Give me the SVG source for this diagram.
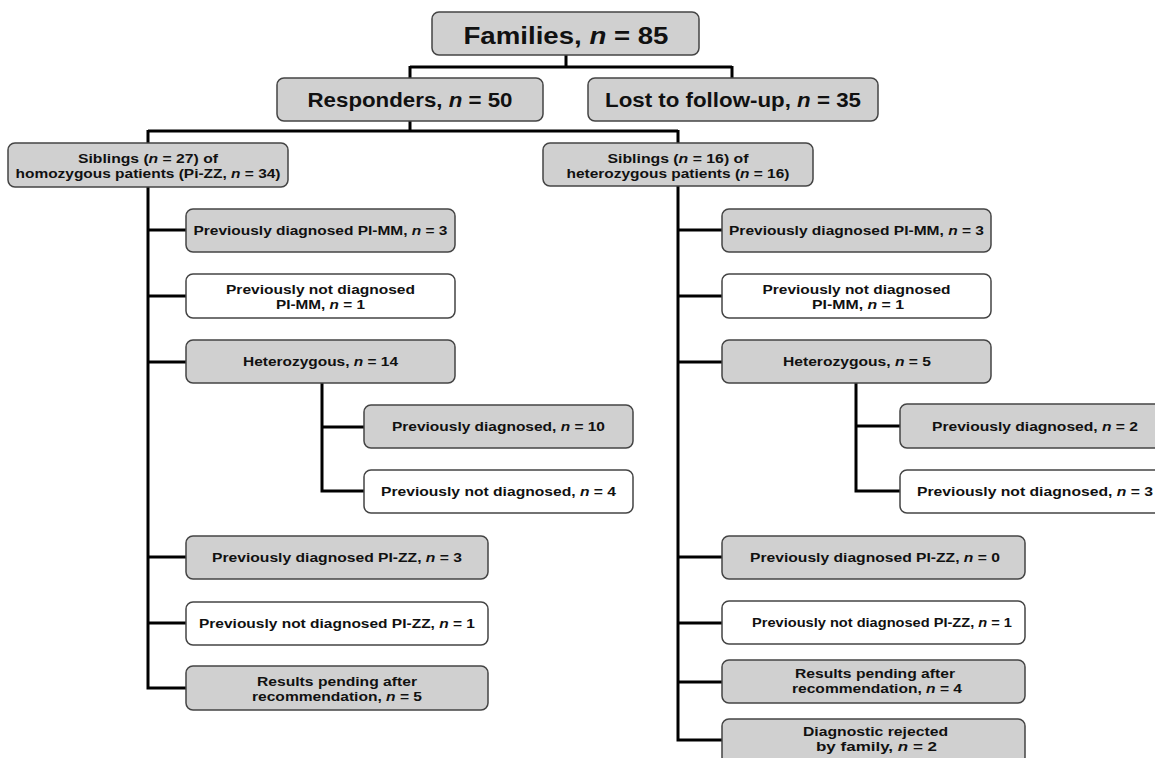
<svg xmlns="http://www.w3.org/2000/svg" width="1155" height="758" viewBox="0 0 1155 758">
<style>
.g{fill:#d0d0d0;stroke:#444;stroke-width:1.5}
.w{fill:#fff;stroke:#444;stroke-width:1.5}
text{font-family:"Liberation Sans",Arial,sans-serif;font-weight:bold;fill:#111;text-anchor:middle;font-size:12px}
.big{font-size:23px}
.mid{font-size:20px}
.i{font-style:italic}
.c{fill:none;stroke:#000;stroke-width:3;stroke-linejoin:miter}
</style>
<rect width="1155" height="758" fill="#fff"/>
<g id="connectors">
<path class="c" d="M566,55V67 M410,67H732 M410,66V78 M732,66V78 M410,121V131 M148,131H678 M148,130V143 M678,130V143"/>
<path class="c" d="M148,187V688 M146.5,230H186 M146.5,296H186 M146.5,362H186 M146.5,557H186 M146.5,623H186 M146.5,688H186"/>
<path class="c" d="M322,383V491 M320.5,427H364 M320.5,491H364"/>
<path class="c" d="M678,186V740 M676.5,230H722 M676.5,296H722 M676.5,362H722 M676.5,557H722 M676.5,623H722 M676.5,682H722 M676.5,740H722"/>
<path class="c" d="M856,383V491 M854.5,426H900 M854.5,491H900"/>
</g>
<g id="families"><rect class="g" x="432" y="12" width="267" height="43" rx="7"/><text class="big" x="566" y="44" textLength="205" lengthAdjust="spacingAndGlyphs">Families, <tspan class="i">n</tspan> = 85</text></g>
<g id="responders"><rect class="g" x="277" y="78" width="266" height="43" rx="7"/><text class="mid" x="410" y="107" textLength="205" lengthAdjust="spacingAndGlyphs">Responders,  <tspan class="i">n</tspan> = 50</text></g>
<g id="lost"><rect class="g" x="588" y="78" width="290" height="43" rx="7"/><text class="mid" x="733" y="107" textLength="256" lengthAdjust="spacingAndGlyphs">Lost to follow-up,  <tspan class="i">n</tspan> = 35</text></g>
<g id="sib-hom"><rect class="g" x="8" y="143" width="280" height="44" rx="7"/><text x="148" y="163" textLength="140" lengthAdjust="spacingAndGlyphs">Siblings (<tspan class="i">n</tspan> = 27) of</text><text x="148" y="178" textLength="265" lengthAdjust="spacingAndGlyphs">homozygous patients (Pi-ZZ, <tspan class="i">n</tspan> = 34)</text></g>
<g id="sib-het"><rect class="g" x="543" y="143" width="270" height="43" rx="7"/><text x="678" y="163" textLength="141" lengthAdjust="spacingAndGlyphs">Siblings (<tspan class="i">n</tspan> = 16) of</text><text x="678" y="178" textLength="223" lengthAdjust="spacingAndGlyphs">heterozygous patients (<tspan class="i">n</tspan> = 16)</text></g>

<g id="l-prev-mm"><rect class="g" x="186" y="209" width="269" height="43" rx="7"/><text x="320.5" y="235" textLength="254" lengthAdjust="spacingAndGlyphs">Previously diagnosed PI-MM, <tspan class="i">n</tspan> = 3</text></g>
<g id="l-notprev-mm"><rect class="w" x="186" y="274" width="269" height="44" rx="7"/><text x="320.5" y="294" textLength="189" lengthAdjust="spacingAndGlyphs">Previously not diagnosed</text><text x="320.5" y="309" textLength="89" lengthAdjust="spacingAndGlyphs">PI-MM, <tspan class="i">n</tspan> = 1</text></g>
<g id="l-het"><rect class="g" x="186" y="340" width="269" height="43" rx="7"/><text x="320.5" y="366" textLength="155" lengthAdjust="spacingAndGlyphs">Heterozygous, <tspan class="i">n</tspan> = 14</text></g>
<g id="l-het-prev"><rect class="g" x="364" y="405" width="269" height="43" rx="7"/><text x="498.5" y="431" textLength="213" lengthAdjust="spacingAndGlyphs">Previously diagnosed, <tspan class="i">n</tspan> = 10</text></g>
<g id="l-het-notprev"><rect class="w" x="364" y="470" width="269" height="43" rx="7"/><text x="498.5" y="496" textLength="235" lengthAdjust="spacingAndGlyphs">Previously not diagnosed, <tspan class="i">n</tspan> = 4</text></g>
<g id="l-prev-zz"><rect class="g" x="186" y="536" width="302" height="43" rx="7"/><text x="337" y="562" textLength="250" lengthAdjust="spacingAndGlyphs">Previously diagnosed PI-ZZ, <tspan class="i">n</tspan> = 3</text></g>
<g id="l-notprev-zz"><rect class="w" x="186" y="602" width="302" height="43" rx="7"/><text x="337" y="628" textLength="276" lengthAdjust="spacingAndGlyphs">Previously not diagnosed PI-ZZ, <tspan class="i">n</tspan> = 1</text></g>
<g id="l-pending"><rect class="g" x="186" y="666" width="302" height="44" rx="7"/><text x="337" y="686" textLength="160" lengthAdjust="spacingAndGlyphs">Results pending after</text><text x="337" y="701" textLength="170" lengthAdjust="spacingAndGlyphs">recommendation, <tspan class="i">n</tspan> = 5</text></g>

<g id="r-prev-mm"><rect class="g" x="722" y="209" width="269" height="43" rx="7"/><text x="856.5" y="235" textLength="255" lengthAdjust="spacingAndGlyphs">Previously diagnosed PI-MM, <tspan class="i">n</tspan> = 3</text></g>
<g id="r-notprev-mm"><rect class="w" x="722" y="274" width="269" height="44" rx="7"/><text x="856.5" y="294" textLength="188" lengthAdjust="spacingAndGlyphs">Previously not diagnosed</text><text x="858" y="309" textLength="92" lengthAdjust="spacingAndGlyphs">PI-MM, <tspan class="i">n</tspan> = 1</text></g>
<g id="r-het"><rect class="g" x="722" y="340" width="269" height="43" rx="7"/><text x="857" y="366" textLength="148" lengthAdjust="spacingAndGlyphs">Heterozygous, <tspan class="i">n</tspan> = 5</text></g>
<g id="r-het-prev"><rect class="g" x="900" y="404" width="270" height="44" rx="7"/><text x="1035" y="431" textLength="206" lengthAdjust="spacingAndGlyphs">Previously diagnosed, <tspan class="i">n</tspan> = 2</text></g>
<g id="r-het-notprev"><rect class="w" x="900" y="470" width="270" height="43" rx="7"/><text x="1035" y="496" textLength="236" lengthAdjust="spacingAndGlyphs">Previously not diagnosed, <tspan class="i">n</tspan> = 3</text></g>
<g id="r-prev-zz"><rect class="g" x="722" y="536" width="303" height="43" rx="7"/><text x="875" y="562" textLength="250" lengthAdjust="spacingAndGlyphs">Previously diagnosed PI-ZZ, <tspan class="i">n</tspan> = 0</text></g>
<g id="r-notprev-zz"><rect class="w" x="722" y="601" width="303" height="43" rx="7"/><text x="882" y="627" textLength="260" lengthAdjust="spacingAndGlyphs">Previously not diagnosed PI-ZZ, <tspan class="i">n</tspan> = 1</text></g>
<g id="r-pending"><rect class="g" x="722" y="660" width="303" height="43" rx="7"/><text x="875" y="678" textLength="160" lengthAdjust="spacingAndGlyphs">Results pending after</text><text x="877" y="693" textLength="170" lengthAdjust="spacingAndGlyphs">recommendation, <tspan class="i">n</tspan> = 4</text></g>
<g id="r-rejected"><rect class="g" x="722" y="719" width="303" height="45" rx="7"/><text x="875.5" y="736" textLength="145" lengthAdjust="spacingAndGlyphs">Diagnostic rejected</text><text x="876.5" y="751" textLength="121" lengthAdjust="spacingAndGlyphs">by family, <tspan class="i">n</tspan> = 2</text></g>
</svg>
